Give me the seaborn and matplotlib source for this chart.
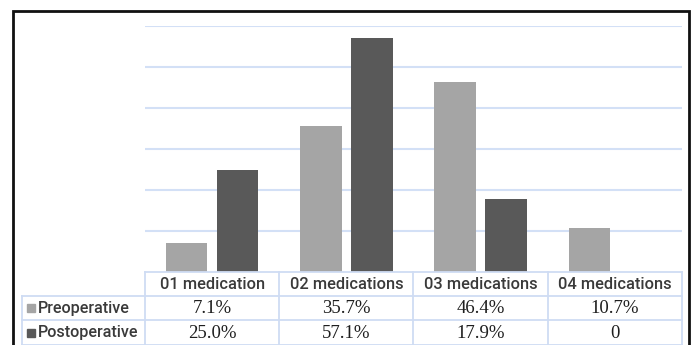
import numpy as np
import pandas as pd
import seaborn as sns
from matplotlib import pyplot as plt
from matplotlib.patches import Rectangle

## chart data
categories = ['01 medication', '02 medications', '03 medications', '04 medications']
series_names = ['Preoperative', 'Postoperative']
preoperative = [7.1, 35.7, 46.4, 10.7]
postoperative = [25.0, 57.1, 17.9, 0.0]
pre_labels = ['7.1%', '35.7%', '46.4%', '10.7%']
post_labels = ['25.0%', '57.1%', '17.9%', '0']

colors = ['#a5a5a5', '#595959']
grid_col = '#d3e0f6'
text_col = '#3a3a3a'

df = pd.DataFrame({
    'category': categories * 2,
    'series': [series_names[0]] * 4 + [series_names[1]] * 4,
    'value': preoperative + postoperative,
})

W, H = 691, 345
fig = plt.figure(figsize=(W / 100, H / 100), dpi=100)

def fx(x):
    return x / W

def fy(y):
    return 1 - y / H

# outer frame
fig.patches.append(Rectangle((fx(13), fy(360)), fx(689) - fx(13), fy(11) - fy(360),
                             transform=fig.transFigure, fill=False,
                             edgecolor='#111111', lw=2.0, zorder=0))

# bar area
left, right, top, base = 145, 682, 26, 272
ax = fig.add_axes([fx(left), fy(base), fx(right) - fx(left), fy(top) - fy(base)])
sns.barplot(data=df, x='category', y='value', hue='series', order=categories,
            hue_order=series_names, palette=colors, width=0.76, gap=0.19,
            saturation=1, legend=False, ax=ax, zorder=3)
ax.set_ylim(0, 60)
ax.set_xlim(-0.5, 3.5)
ax.set_yticks(np.arange(10, 61, 10))
ax.yaxis.grid(True, color=grid_col, lw=1.5)
ax.set_axisbelow(True)
ax.tick_params(left=False, bottom=False, labelleft=False, labelbottom=False)
ax.set_xlabel('')
ax.set_ylabel('')
for s in ax.spines.values():
    s.set_visible(False)
ax.patch.set_alpha(0)

# data table
tab = fig.add_axes([0, 0, 1, 1])
tab.set_xlim(0, W)
tab.set_ylim(H, 0)
tab.axis('off')
tab.patch.set_alpha(0)

col_w = (right - left) / len(categories)
col_edges = [left + i * col_w for i in range(len(categories) + 1)]
rows = [272, 296, 320, 345]
lab_left = 22
lc = '#cfdcf3'
tab.plot([left, right], [rows[0], rows[0]], color=lc, lw=1.3)
for y in rows[1:]:
    tab.plot([lab_left, right], [y, y], color=lc, lw=1.3)
tab.plot([lab_left, lab_left], [rows[1], rows[3]], color=lc, lw=1.3)
for x in col_edges:
    tab.plot([x, x], [rows[0], rows[3]], color=lc, lw=1.3)

sans = 'Roboto'
serif = 'Liberation Serif'
for i, c in enumerate(categories):
    cx = (col_edges[i] + col_edges[i + 1]) / 2
    tab.text(cx, (rows[0] + rows[1]) / 2 + 0.5, c, ha='center', va='center',
             fontsize=11.8, family=sans, weight='medium', color=text_col)
    tab.text(cx, (rows[1] + rows[2]) / 2 + 0.5, pre_labels[i], ha='center', va='center',
             fontsize=13.5, family=serif, color='#1e1e1e')
    tab.text(cx, (rows[2] + rows[3]) / 2 + 0.5, post_labels[i], ha='center', va='center',
             fontsize=13.5, family=serif, color='#1e1e1e')

for r, name in enumerate(series_names):
    cy = (rows[r + 1] + rows[r + 2]) / 2
    tab.add_patch(Rectangle((27, cy - 4), 8, 8, color=colors[r]))
    tab.text(38, cy + 0.5, name, ha='left', va='center', fontsize=11.6, family=sans,
             weight='medium', color=text_col)

fig.savefig('out.png', dpi=100)
